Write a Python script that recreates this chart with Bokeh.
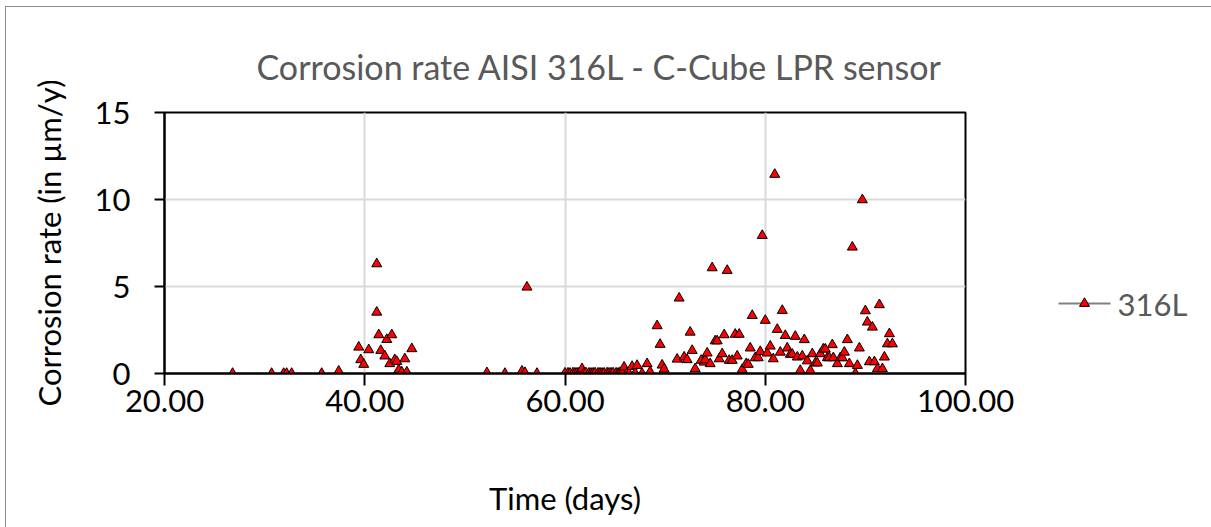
from bokeh.plotting import figure
from bokeh.models import (Range1d, FixedTicker, NumeralTickFormatter,
                          ColumnDataSource)
from bokeh.layouts import row
from bokeh.core.properties import value
from bokeh.embed import file_html
from bokeh.resources import INLINE

# ---- data ----
time_days = [
    26.8, 30.7, 31.9, 32.2, 32.7, 35.7, 37.4, 39.4, 39.6, 39.9,
    40.4, 41.2, 41.2, 41.4, 41.6, 42.0, 42.2, 42.5, 42.7, 43.0,
    43.2, 43.4, 43.7, 44.0, 44.2, 44.7,
    52.2, 54.0, 55.7, 56.0, 56.2, 57.2,
    60.0, 60.3, 60.5, 60.8, 61.0, 61.2, 61.4, 61.7, 61.9, 62.1,
    62.4, 62.6, 62.8, 63.0, 63.3, 63.5, 63.7, 63.9, 64.2, 64.4,
    64.6, 64.8, 65.1, 65.3, 65.5, 65.7, 65.9, 66.2, 66.4, 66.7,
    67.0, 67.2, 67.7, 68.2, 68.5, 69.2, 69.5, 69.7, 69.9,
    71.2, 71.4, 71.9, 72.2, 72.5, 72.7, 73.0, 73.6, 73.9, 74.0,
    74.2, 74.5, 74.7, 75.0, 75.2, 75.4, 75.7, 75.9, 76.2, 76.4,
    76.7, 77.0, 77.2, 77.4, 77.7, 78.1, 78.3, 78.5, 78.7, 79.0,
    79.3, 79.5, 79.7, 80.0, 80.2, 80.5, 80.8, 80.95, 81.2, 81.5,
    81.7, 82.0, 82.2, 82.5, 82.7, 83.0, 83.2, 83.5, 83.7, 83.9,
    84.2, 84.5, 84.7, 85.0, 85.2, 85.5, 85.8, 86.0, 86.2, 86.4,
    86.7, 86.8, 87.2, 87.5, 87.7, 87.9, 88.2, 88.4, 88.7, 89.0,
    89.2, 89.4, 89.7, 90.0, 90.2, 90.4, 90.7, 90.9, 91.2, 91.4,
    91.7, 91.9, 92.2, 92.4, 92.7,
]
corrosion_rate = [
    0.0, 0.0, 0.0, 0.0, 0.0, 0.0, 0.13, 1.51, 0.79, 0.52,
    1.36, 6.30, 3.52, 2.22, 1.32, 1.00, 1.95, 0.56, 2.22, 0.79,
    0.69, 0.21, 0.08, 0.84, 0.08, 1.42,
    0.04, 0.0, 0.13, 0.05, 4.96, 0.0,
    0.02, 0.02, 0.01, 0.03, 0.02, 0.02, 0.03, 0.27, 0.02, 0.03,
    0.02, 0.01, 0.02, 0.03, 0.02, 0.02, 0.01, 0.02, 0.03, 0.02,
    0.02, 0.03, 0.02, 0.01, 0.05, 0.04, 0.36, 0.03, 0.00, 0.40,
    0.02, 0.46, 0.00, 0.56, 0.10, 2.74, 1.67, 0.48, 0.25,
    0.82, 4.33, 0.94, 0.79, 2.37, 1.32, 0.27, 0.75, 0.65, 0.79,
    1.17, 0.56, 6.07, 1.87, 1.87, 0.84, 1.13, 2.22, 5.92, 0.75,
    0.75, 2.25, 1.00, 2.25, 0.23, 0.56, 0.52, 1.46, 3.33, 0.90,
    0.90, 1.26, 7.93, 3.05, 1.17, 1.57, 0.84, 11.44, 2.53, 1.22,
    3.62, 2.18, 1.46, 1.10, 1.10, 2.13, 0.94, 0.17, 1.00, 1.94,
    0.72, 0.17, 1.13, 0.60, 0.60, 1.13, 1.40, 1.40, 0.90, 0.90,
    1.65, 0.90, 0.56, 0.90, 0.90, 1.22, 1.94, 0.56, 7.26, 0.00,
    0.46, 1.46, 9.98, 3.60, 2.95, 0.67, 2.66, 0.67, 0.27, 3.95,
    0.27, 0.94, 1.70, 2.28, 1.70,
]
x_ticks = [20, 40, 60, 80, 100]
y_ticks = [0, 5, 10, 15]
series_name = "316L"
chart_title = "Corrosion rate AISI 316L - C-Cube LPR sensor"
x_title = "Time (days)"
y_title = "Corrosion rate (in µm/y)"

FONT = "Lato"
H = 520
W_MAIN = 1040
W_LEG = 165

p = figure(width=W_MAIN, height=H, output_backend="svg", toolbar_location=None,
           x_range=Range1d(20, 100), y_range=Range1d(0, 15),
           min_border_left=158, min_border_right=81,
           min_border_top=105, min_border_bottom=154)
p.background_fill_color = "white"
p.border_fill_color = "white"
p.outline_line_color = "black"
p.outline_line_width = 2

p.title.text = chart_title
p.title.align = "left"
p.title.offset = 92
p.title.standoff = 52
p.title.text_font = FONT
p.title.text_font_size = "34px"
p.title.text_font_style = "normal"
p.title.text_color = "#595959"

for ax in (p.xaxis[0], p.yaxis[0]):
    ax.axis_line_color = "black"
    ax.axis_line_width = 2
    ax.major_tick_line_color = "black"
    ax.major_tick_line_width = 2
    ax.major_tick_in = 0
    ax.minor_tick_line_color = None
    ax.major_label_text_font = FONT
    ax.major_label_text_font_size = "31px"
    ax.major_label_text_color = "black"
    ax.axis_label_text_font = FONT
    ax.axis_label_text_font_size = "31px"
    ax.axis_label_text_font_style = "normal"
    ax.axis_label_text_color = "black"

p.xaxis[0].ticker = FixedTicker(ticks=x_ticks)
p.xaxis[0].formatter = NumeralTickFormatter(format="0.00")
p.xaxis[0].major_tick_out = 12
p.xaxis[0].major_label_standoff = 4
p.xaxis[0].axis_label = x_title
p.xaxis[0].axis_label_standoff = 64

p.yaxis[0].ticker = FixedTicker(ticks=y_ticks)
p.yaxis[0].major_tick_out = 10
p.yaxis[0].major_label_standoff = 24
p.yaxis[0].axis_label = y_title
p.yaxis[0].axis_label_standoff = 24

p.xgrid.ticker = FixedTicker(ticks=x_ticks)
p.ygrid.ticker = FixedTicker(ticks=y_ticks)
for g in (p.xgrid[0], p.ygrid[0]):
    g.grid_line_color = "#d9d9d9"
    g.grid_line_width = 2

src = ColumnDataSource(dict(x=time_days, y=corrosion_rate))
p.scatter("x", "y", source=src, marker="triangle", size=10,
          fill_color="#ff0000", line_color="black", line_width=1)

# ---- legend panel: its frame is aligned with the main frame by the row,
# so y units here are pixels measured down from the main frame's top edge ----
FRAME_H = 261
lg = figure(width=W_LEG, height=H, output_backend="svg", toolbar_location=None,
            title=None, x_axis_location=None, y_axis_location=None,
            x_range=Range1d(0, W_LEG), y_range=Range1d(FRAME_H, 0),
            min_border=0, min_border_left=0, min_border_right=0,
            min_border_top=0, min_border_bottom=0)
lg.grid.visible = False
lg.outline_line_color = None
lg.background_fill_color = "white"
lg.border_fill_color = "white"
LEG_Y = 191
lg.segment(x0=[12], y0=[LEG_Y], x1=[64], y1=[LEG_Y], line_color="#808080", line_width=2)
lg.scatter(x=[38], y=[LEG_Y], marker="triangle", size=10,
           fill_color="#ff0000", line_color="black", line_width=1)
lg.text(x=[71], y=[LEG_Y], text=[series_name], text_font=value(FONT),
        text_font_size="31px", text_color="#595959",
        text_align="left", text_baseline="middle")

layout = row(p, lg, spacing=0)
layout.styles = {"margin-left": "5px", "margin-top": "6px",
                 "border-left": "1px solid #8c8c8c", "border-top": "1px solid #8c8c8c"}

open("out.html", "w").write(file_html(layout, INLINE))
